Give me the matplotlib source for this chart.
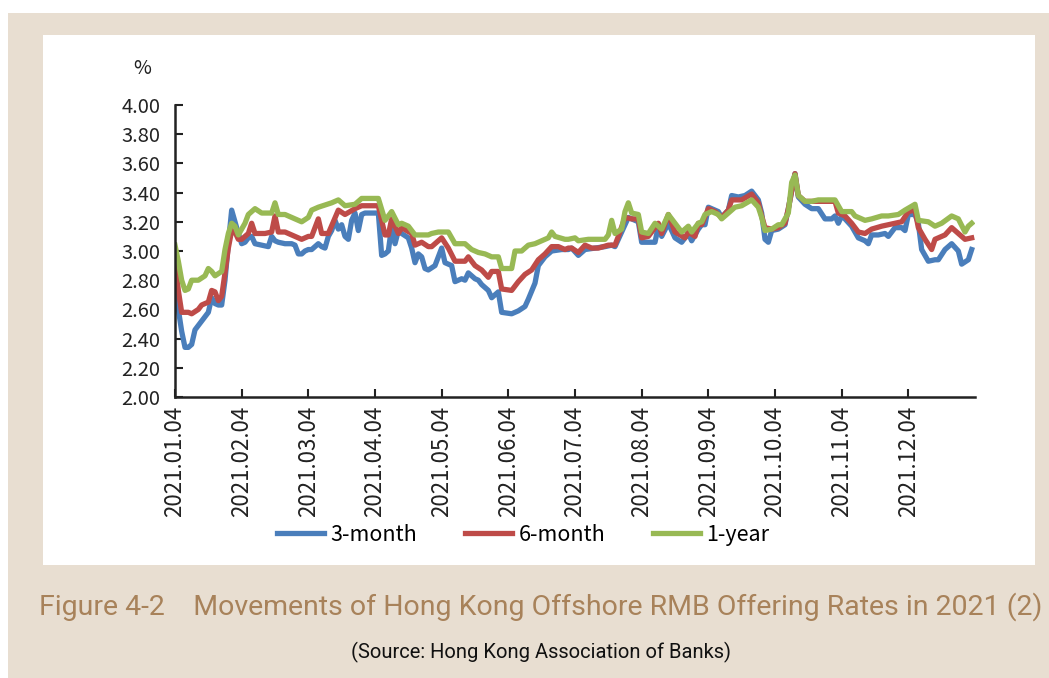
import matplotlib.pyplot as plt
from matplotlib.patches import Rectangle

plt.rcParams['font.family'] = ['Noto Sans CJK SC', 'DejaVu Sans']

# tick labels on the date axis (one every 20 trading days)
tick_days = [0, 20, 40, 60, 80, 100, 120, 140, 160, 180, 200, 220]
tick_labels = ['2021.01.04', '2021.02.04', '2021.03.04', '2021.04.04',
               '2021.05.04', '2021.06.04', '2021.07.04', '2021.08.04',
               '2021.09.04', '2021.10.04', '2021.11.04', '2021.12.04']

# 3-month rate (%)
day_3m = [0, 1, 2, 3, 4, 5, 6, 7, 8, 9, 10, 11, 12, 13, 14, 15, 16, 17, 18, 19,
          20, 21, 22, 23, 24, 26, 28, 29, 30, 31, 33, 35, 36, 37, 38, 39, 40, 41,
          43, 44, 45, 46, 47, 48, 49, 50, 51, 52, 53, 54, 55, 56, 57, 61, 62, 63,
          64, 65, 66, 67, 68, 70, 71, 72, 73, 74, 75, 76, 78, 79, 80, 81, 82, 83,
          84, 86, 87, 88, 90, 91, 92, 94, 95, 96, 97, 98, 101, 103, 105, 106, 108,
          109, 111, 113, 116, 118, 119, 121, 123, 126, 129, 131, 132, 133, 135,
          136, 137, 139, 140, 142, 144, 145, 146, 148, 150, 152, 154, 155, 157,
          158, 159, 160, 161, 163, 164, 166, 167, 169, 171, 173, 175, 176, 177,
          178, 179, 181, 183, 184, 186, 187, 189, 191, 193, 195, 197, 198, 199,
          200, 201, 203, 205, 207, 208, 209, 211, 213, 214, 216, 218, 219, 220,
          222, 223, 224, 226, 228, 229, 231, 233, 235, 236, 238, 239]
rate_3m = [2.78, 2.60, 2.45, 2.34, 2.34, 2.36, 2.46, 2.49, 2.52, 2.55, 2.58, 2.68,
           2.64, 2.63, 2.63, 2.80, 3.05, 3.28, 3.20, 3.12, 3.05, 3.06, 3.09, 3.10,
           3.05, 3.04, 3.03, 3.10, 3.07, 3.06, 3.05, 3.05, 3.04, 2.98, 2.98, 3.00,
           3.01, 3.01, 3.05, 3.03, 3.02, 3.10, 3.14, 3.21, 3.15, 3.18, 3.10, 3.08,
           3.21, 3.26, 3.14, 3.25, 3.26, 3.26, 2.97, 2.98, 3.00, 3.17, 3.05, 3.14,
           3.12, 3.09, 3.02, 2.92, 2.98, 2.96, 2.88, 2.87, 2.90, 2.96, 3.02, 2.92,
           2.91, 2.90, 2.79, 2.81, 2.80, 2.85, 2.81, 2.80, 2.77, 2.73, 2.68, 2.70,
           2.72, 2.58, 2.57, 2.59, 2.62, 2.67, 2.78, 2.90, 2.96, 3.00, 3.01, 3.01,
           3.02, 2.97, 3.01, 3.02, 3.03, 3.04, 3.03, 3.08, 3.18, 3.23, 3.22, 3.20,
           3.06, 3.06, 3.06, 3.17, 3.10, 3.19, 3.09, 3.06, 3.12, 3.07, 3.15, 3.18,
           3.18, 3.30, 3.29, 3.27, 3.23, 3.28, 3.38, 3.37, 3.38, 3.41, 3.35, 3.26,
           3.08, 3.06, 3.14, 3.15, 3.18, 3.29, 3.53, 3.37, 3.32, 3.29, 3.29, 3.22,
           3.22, 3.24, 3.19, 3.24, 3.22, 3.17, 3.09, 3.07, 3.05, 3.11, 3.11, 3.12,
           3.10, 3.16, 3.16, 3.14, 3.25, 3.25, 3.19, 3.01, 2.93, 2.94, 2.94, 3.01,
           3.05, 3.00, 2.91, 2.94, 3.01]

# 6-month rate (%)
day_6m = [0, 1, 2, 4, 5, 7, 8, 10, 11, 12, 13, 14, 15, 16, 17, 18, 19, 20, 22, 23,
          24, 27, 29, 30, 31, 33, 35, 38, 40, 41, 43, 44, 46, 49, 51, 54, 56, 61,
          63, 64, 65, 67, 68, 71, 72, 74, 76, 77, 79, 80, 82, 84, 87, 88, 90, 92,
          94, 95, 97, 98, 101, 103, 105, 107, 109, 111, 113, 115, 117, 118, 119,
          121, 123, 125, 127, 130, 132, 133, 135, 137, 139, 140, 142, 145, 146,
          148, 150, 153, 154, 156, 157, 158, 160, 162, 164, 166, 167, 170, 173,
          175, 176, 177, 179, 181, 183, 184, 186, 187, 189, 191, 193, 198, 199,
          201, 203, 205, 207, 209, 212, 214, 216, 218, 220, 222, 223, 225, 227,
          228, 231, 233, 235, 237, 239]
rate_6m = [2.93, 2.73, 2.58, 2.58, 2.57, 2.60, 2.63, 2.65, 2.73, 2.72, 2.66, 2.69,
           2.85, 3.02, 3.14, 3.13, 3.08, 3.08, 3.12, 3.19, 3.12, 3.12, 3.13, 3.24,
           3.13, 3.13, 3.11, 3.08, 3.10, 3.10, 3.22, 3.12, 3.12, 3.28, 3.25, 3.29,
           3.31, 3.31, 3.11, 3.11, 3.22, 3.12, 3.16, 3.12, 3.04, 3.06, 3.03, 3.03,
           3.07, 3.09, 3.02, 2.93, 2.93, 2.96, 2.90, 2.87, 2.82, 2.86, 2.86, 2.74,
           2.73, 2.79, 2.84, 2.87, 2.94, 2.98, 3.03, 3.03, 3.01, 3.02, 3.02, 2.99,
           3.04, 3.02, 3.02, 3.04, 3.04, 3.10, 3.23, 3.22, 3.22, 3.09, 3.10, 3.19,
           3.12, 3.25, 3.13, 3.09, 3.13, 3.10, 3.19, 3.18, 3.29, 3.27, 3.23, 3.28,
           3.35, 3.35, 3.39, 3.33, 3.24, 3.16, 3.15, 3.16, 3.19, 3.29, 3.53, 3.38,
           3.34, 3.34, 3.34, 3.34, 3.26, 3.24, 3.19, 3.13, 3.12, 3.15, 3.17, 3.18,
           3.19, 3.20, 3.27, 3.28, 3.16, 3.08, 3.01, 3.08, 3.11, 3.16, 3.12, 3.08,
           3.09]

# 1-year rate (%)
day_1y = [0, 1, 2, 3, 4, 5, 7, 9, 10, 11, 12, 14, 15, 16, 17, 18, 19, 21, 22, 24,
          26, 29, 30, 31, 33, 35, 38, 40, 41, 43, 47, 49, 51, 54, 56, 61, 63, 65,
          67, 68, 70, 72, 76, 77, 79, 82, 84, 87, 89, 91, 93, 95, 97, 98, 101, 102,
          104, 106, 108, 110, 112, 113, 114, 117, 118, 120, 121, 124, 129, 130,
          131, 132, 134, 135, 136, 137, 139, 140, 142, 144, 146, 148, 150, 152,
          154, 155, 157, 158, 159, 161, 163, 164, 166, 168, 170, 173, 175, 176,
          177, 179, 181, 182, 184, 185, 186, 187, 189, 191, 193, 198, 200, 203,
          204, 207, 209, 212, 214, 217, 219, 222, 223, 226, 228, 230, 233, 235,
          237, 238, 239]
rate_1y = [3.04, 2.93, 2.80, 2.73, 2.74, 2.80, 2.80, 2.83, 2.88, 2.86, 2.83, 2.86,
           3.01, 3.12, 3.19, 3.17, 3.11, 3.19, 3.25, 3.29, 3.26, 3.26, 3.33, 3.25,
           3.25, 3.23, 3.20, 3.23, 3.28, 3.30, 3.33, 3.35, 3.31, 3.32, 3.36, 3.36,
           3.21, 3.27, 3.18, 3.19, 3.17, 3.11, 3.11, 3.12, 3.13, 3.13, 3.05, 3.05,
           3.01, 2.99, 2.98, 2.96, 2.96, 2.88, 2.88, 3.00, 3.00, 3.04, 3.05, 3.07,
           3.09, 3.13, 3.10, 3.08, 3.08, 3.09, 3.07, 3.08, 3.08, 3.11, 3.21, 3.12,
           3.15, 3.27, 3.33, 3.26, 3.25, 3.13, 3.12, 3.19, 3.15, 3.25, 3.19, 3.13,
           3.17, 3.13, 3.19, 3.20, 3.25, 3.27, 3.25, 3.22, 3.26, 3.30, 3.31, 3.35,
           3.30, 3.23, 3.14, 3.15, 3.18, 3.18, 3.26, 3.47, 3.52, 3.38, 3.34, 3.34,
           3.35, 3.35, 3.27, 3.27, 3.24, 3.21, 3.22, 3.24, 3.24, 3.25, 3.28, 3.32,
           3.21, 3.20, 3.17, 3.19, 3.24, 3.22, 3.13, 3.17, 3.19]

W, H = 1049, 678
fig = plt.figure(figsize=(W / 100, H / 100), dpi=100, facecolor='white')

# beige page and white chart panel behind the axes
fig.patches.append(Rectangle((8 / W, 0), 1, 1 - 13 / H, transform=fig.transFigure,
                             facecolor='#e8ded1', edgecolor='none', zorder=-2))
fig.patches.append(Rectangle((43 / W, 1 - 565 / H), 992 / W, 530 / H,
                             transform=fig.transFigure, facecolor='white',
                             edgecolor='none', zorder=-1))

ax = fig.add_axes([175 / W, 1 - 397 / H, 800 / W, 292 / H])
ax.patch.set_visible(False)

ax.plot(day_3m, rate_3m, color='#4a7ebb', lw=3.8, label='3-month', solid_joinstyle='round')
ax.plot(day_6m, rate_6m, color='#be4b48', lw=3.8, label='6-month', solid_joinstyle='round')
ax.plot(day_1y, rate_1y, color='#98b954', lw=3.8, label='1-year', solid_joinstyle='round')

ax.set_xlim(0, 240)
ax.set_ylim(2.0, 4.0)
ax.set_yticks([2.0 + 0.2 * i for i in range(11)])
ax.set_yticklabels(['%.2f' % (2.0 + 0.2 * i) for i in range(11)], fontsize=14.5, color='#222222')
ax.set_xticks(tick_days)
ax.set_xticklabels(tick_labels, rotation=90, fontsize=16, color='#222222')
ax.tick_params(direction='in', length=6, width=1.5, color='#222222')
ax.tick_params(axis='x', pad=6)
ax.tick_params(axis='y', pad=10.5)

for s in ['top', 'right']:
    ax.spines[s].set_visible(False)
for s in ['left', 'bottom']:
    ax.spines[s].set_linewidth(1.8)
    ax.spines[s].set_color('#222222')

fig.text(142 / W, 1 - 69 / H, '%', fontsize=14, ha='center', va='center', color='#222222')

fig.legend(loc='center', bbox_to_anchor=(523 / W, 1 - 535 / H), ncol=3, frameon=False,
           fontsize=15.5, handlelength=2.2, columnspacing=2.2, handletextpad=0.3)

fig.text(541 / W, 1 - 607 / H,
         'Figure 4-2    Movements of Hong Kong Offshore RMB Offering Rates in 2021 (2)',
         family=['Roboto', 'DejaVu Sans'], fontsize=20.5,
         color='#a8825a', ha='center', va='center')
fig.text(541 / W, 1 - 652 / H, '(Source: Hong Kong Association of Banks)',
         family=['Roboto', 'DejaVu Sans'], fontsize=14.5,
         color='#111111', ha='center', va='center')

fig.savefig('out.png', dpi=100)
